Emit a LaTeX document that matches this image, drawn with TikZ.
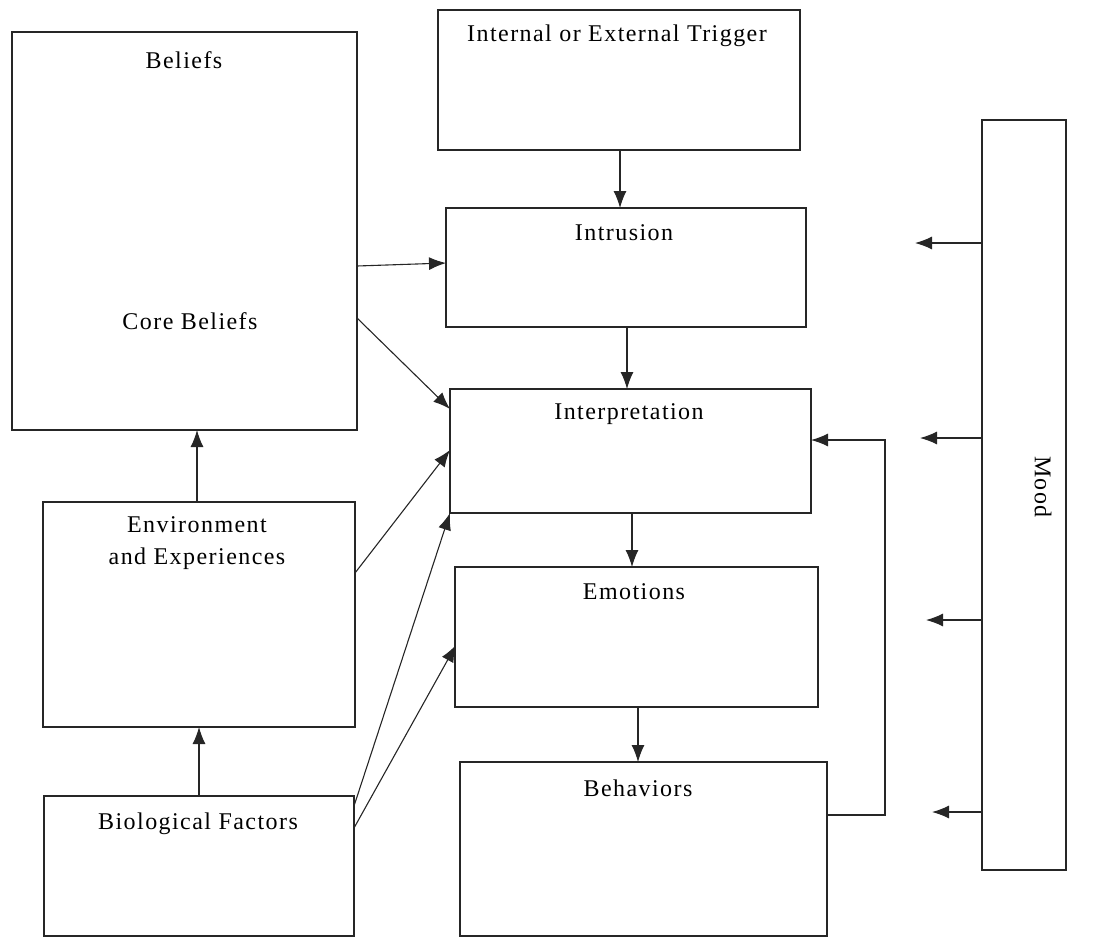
\documentclass[tikz,border=0pt]{standalone}
\usepackage{fontspec}
\setmainfont{Liberation Serif}[LetterSpace=6]
\usetikzlibrary{arrows.meta}
\begin{document}
\begin{tikzpicture}[x=0.5pt,y=-0.5pt,
  box/.style={draw=black!85, line width=0.55pt},
  lbl/.style={font=\fontsize{12}{15}\selectfont, align=center, inner sep=0pt},
  arr/.style={draw=black!85, line width=0.55pt, -{Latex[length=8.5pt,width=6.5pt]}}]
\useasboundingbox (0,0) rectangle (1097,938);
% boxes
\draw[box] (12,32) rectangle (357,430);
\node[lbl] (tBeliefs) at (184,60) {Beliefs};
\node[lbl] (tCore) at (190,321) {Core Beliefs};

\draw[box] (438,10) rectangle (800,150);
\node[lbl] (tTrig) at (617,36) {Internal or External Trigger};

\draw[box] (446,208) rectangle (806,327);
\node[lbl] (tIntr) at (624,233) {Intrusion};

\draw[box] (450,389) rectangle (811,513);
\node[lbl] (tInterp) at (629,414) {Interpretation};

\draw[box] (455,567) rectangle (818,707);
\node[lbl] (tEmo) at (634,592) {Emotions};

\draw[box] (460,762) rectangle (827,936);
\node[lbl] (tBeh) at (638,788) {Behaviors};

\draw[box] (43,502) rectangle (355,727);
\node[lbl] (tEnv) at (197,543) {Environment\\[1pt]and Experiences};

\draw[box] (44,796) rectangle (354,936);
\node[lbl] (tBio) at (198,824) {Biological Factors};

\draw[box] (982,120) rectangle (1066,870);
\node[lbl, rotate=-90] (tMood) at (1043,487) {Mood};

% anchor coordinates
\coordinate (trigB) at (620,150);
\coordinate (intrT) at (620,208);
\coordinate (intrB) at (627,327);
\coordinate (interT) at (627,389);
\coordinate (interB) at (632,513);
\coordinate (emoT) at (632,567);
\coordinate (emoB) at (638,707);
\coordinate (behT) at (638,762);

\coordinate (belR1) at (357,266);
\coordinate (intrL1) at (446,263);
\coordinate (belR2) at (357,318);
\coordinate (interL1) at (450,409);
\coordinate (envR) at (355,573);
\coordinate (interL2) at (450,450);
\coordinate (bioR1) at (354,806);
\coordinate (interL3) at (450,513);
\coordinate (bioR2) at (354,828);
\coordinate (emoL) at (456,645);
\coordinate (envT) at (197,502);
\coordinate (belB) at (197,430);
\coordinate (bioT) at (199,796);
\coordinate (envB) at (199,727);

\coordinate (behR) at (827,815);
\coordinate (fbA) at (885,815);
\coordinate (fbB) at (885,440);
\coordinate (interR) at (811,440);

\coordinate (m1) at (982,243);  \coordinate (m1e) at (915,243);
\coordinate (m2) at (982,438);  \coordinate (m2e) at (920,438);
\coordinate (m3) at (982,620);  \coordinate (m3e) at (926,620);
\coordinate (m4) at (982,812);  \coordinate (m4e) at (932,812);

% connectors
\draw[arr] (trigB) -- (intrT);
\draw[arr] (intrB) -- (interT);
\draw[arr] (interB) -- (emoT);
\draw[arr] (emoB) -- (behT);
\draw[arr] (belR1) -- (intrL1);
\draw[arr] (belR2) -- (interL1);
\draw[arr] (envR) -- (interL2);
\draw[arr] (bioR1) -- (interL3);
\draw[arr] (bioR2) -- (emoL);
\draw[arr] (envT) -- (belB);
\draw[arr] (bioT) -- (envB);
\draw[arr] (behR) -- (fbA) -- (fbB) -- (interR);
\draw[arr] (m1) -- (m1e);
\draw[arr] (m2) -- (m2e);
\draw[arr] (m3) -- (m3e);
\draw[arr] (m4) -- (m4e);
\end{tikzpicture}
\end{document}
